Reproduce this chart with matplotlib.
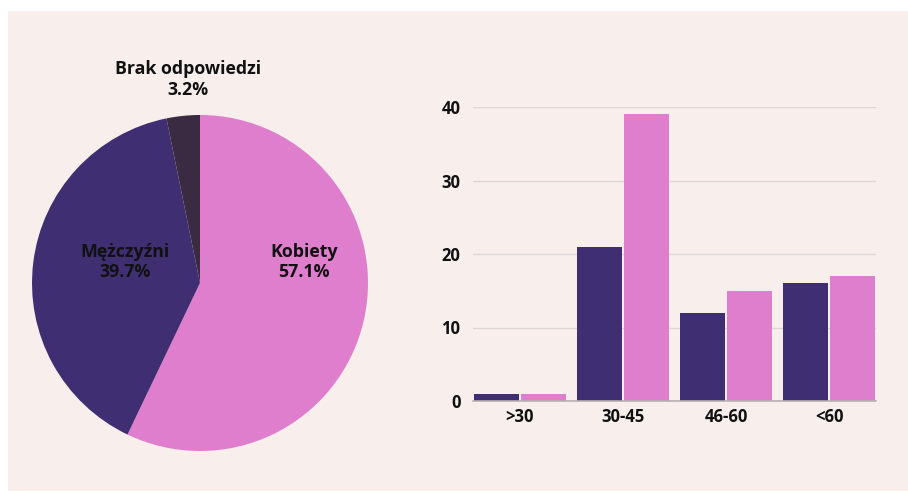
import matplotlib.pyplot as plt
from matplotlib.patches import Rectangle

plt.rcParams['font.family'] = ['Open Sans', 'DejaVu Sans']

# pie data
gender_labels = ['Kobiety', 'Mężczyźni', 'Brak odpowiedzi']
gender_pct = [57.1, 39.7, 3.2]
gender_colors = ['#e07ece', '#3f2f72', '#3a2a42']

# bar data
age_groups = ['>30', '30-45', '46-60', '<60']
men = [1, 21, 12, 16]
women = [1, 39, 15, 17]

W, H = 908, 493
fig = plt.figure(figsize=(W / 100, H / 100), dpi=100)
fig.patch.set_facecolor('white')
bg = Rectangle((8 / W, 2 / H), 1, 480 / H, transform=fig.transFigure,
               facecolor='#f8efed', edgecolor='none', zorder=-10)
fig.patches.append(bg)

# pie
cx, cy, r = 200, 283, 168
ax1 = fig.add_axes([(cx - r) / W, (H - cy - r) / H, 2 * r / W, 2 * r / H])
ax1.pie(gender_pct, colors=gender_colors, startangle=90, counterclock=False,
        wedgeprops=dict(linewidth=0))
ax1.set_xlim(-1, 1)
ax1.set_ylim(-1, 1)
ax1.set_axis_off()

label_pos = [(0.62, 0.125), (-0.445, 0.125), (-0.07, 1.21)]
for lab, pct, (x, y) in zip(gender_labels, gender_pct, label_pos):
    ax1.text(x, y, f'{lab}\n{pct}%', ha='center', va='center', fontsize=12.8,
             fontweight='bold', color='#111111', linespacing=1.2)

# bars
ax2 = fig.add_axes([473 / W, (H - 401) / H, 403 / W, 294 / H])
ax2.set_facecolor('none')
xs = range(len(age_groups))
bw = 0.43
ax2.bar([x - 0.228 for x in xs], men, width=bw, color='#3f2f72', zorder=2)
ax2.bar([x + 0.228 for x in xs], women, width=bw, color='#e07ece', zorder=2)
ax2.set_xlim(-0.456, 3.456)
ax2.set_ylim(0, 40)
ax2.set_yticks([0, 10, 20, 30, 40])
ax2.set_xticks(list(xs))
ax2.set_xticklabels(age_groups)
ax2.grid(axis='y', color='#dcd6d5', linewidth=1, zorder=0)
ax2.set_axisbelow(True)
for s in ['top', 'right', 'left']:
    ax2.spines[s].set_visible(False)
ax2.spines['bottom'].set_color('#b5b0b0')
ax2.spines['bottom'].set_linewidth(1.2)
ax2.spines['bottom'].set_zorder(3)
ax2.tick_params(axis='both', length=0, labelsize=12, colors='#111111')
ax2.tick_params(axis='y', pad=9)
ax2.tick_params(axis='x', pad=5)
for t in ax2.get_xticklabels() + ax2.get_yticklabels():
    t.set_fontweight('bold')

fig.savefig('out.png', dpi=100)
